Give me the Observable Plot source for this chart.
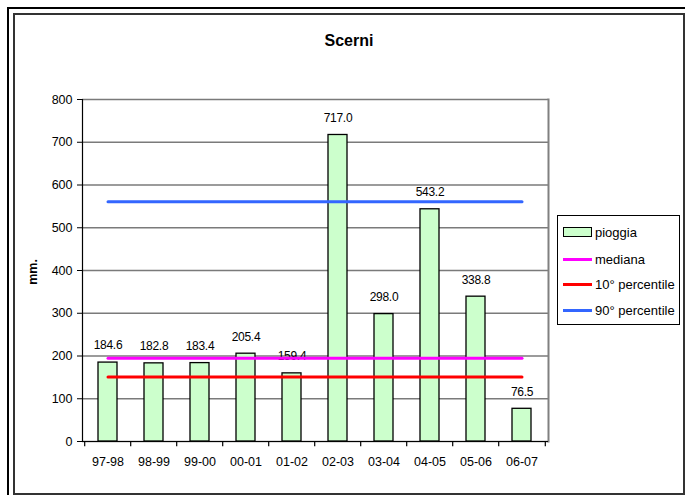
<!DOCTYPE html>
<html>
<head>
<meta charset="utf-8">
<script src="https://cdn.jsdelivr.net/npm/d3@7"></script>
<script src="https://cdn.jsdelivr.net/npm/@observablehq/plot@0.6"></script>
<style>
  html, body { margin: 0; padding: 0; background: #fff; }
  body { font-family: "Liberation Sans", Arial, sans-serif; }
  #wrap { position: relative; width: 685px; height: 495px; overflow: hidden; }
  #wrap svg { position: absolute; left: 0; top: 0; }
  #wrap svg .vlabels text { letter-spacing: -0.3px; }
  .outer { position: absolute; left: 7px; top: 7px; width: 700px; height: 600px;
           border-left: 2px solid #000; border-top: 2px solid #000; }
  .inner { position: absolute; left: 13px; top: 13px; width: 668px; height: 478px;
           border: 2px solid #333; }
  .title { position: absolute; left: 0; width: 698px; top: 32px; text-align: center;
           font-weight: bold; font-size: 16px; color: #000; }
  .ylab { position: absolute; left: 33px; top: 272px; transform: translate(-50%, -50%) rotate(-90deg);
          font-weight: bold; font-size: 12.5px; white-space: nowrap; }
  .legend { position: absolute; left: 557px; top: 215px; width: 121px; height: 108px;
            border: 1px solid #000; background: #fff; font-size: 13px; }
  .item { position: absolute; left: 5px; height: 14px; display: flex; align-items: center; white-space: nowrap; }
  .sw-bar { width: 27px; height: 8px; background: #ccffcc; border: 1px solid #000; margin-right: 3px; }
  .sw-line { width: 29px; height: 3px; margin-right: 3px; }
</style>
</head>
<body>
<div id="wrap">
  <div class="outer"></div>
  <div class="inner"></div>
  <div class="title">Scerni</div>
  <div class="ylab">mm.</div>
</div>
<script>
// Rainfall totals per hydrological year (mm)
const seasons = ["97-98", "98-99", "99-00", "00-01", "01-02", "02-03", "03-04", "04-05", "05-06", "06-07"];
const rainfall = [184.6, 182.8, 183.4, 205.4, 159.4, 717.0, 298.0, 543.2, 338.8, 76.5];

// Reference levels over the period (mm)
const mediana = 195.0;
const percentile10 = 151.1;
const percentile90 = 560.6;

const yTicks = [0, 100, 200, 300, 400, 500, 600, 700, 800];

const legendItems = [
  {label: "pioggia", kind: "bar"},
  {label: "mediana", kind: "line", color: "#ff00ff"},
  {label: "10° percentile", kind: "line", color: "#ff0000"},
  {label: "90° percentile", kind: "line", color: "#3366ff"}
];

const data = seasons.map((s, i) => ({season: s, mm: rainfall[i]}));
const levels = [
  {value: mediana, color: "#ff00ff"},
  {value: percentile10, color: "#ff0000"},
  {value: percentile90, color: "#3366ff"}
];

const marginLeft = 82, marginRight = 137;
const step = (685 - marginLeft - marginRight) / seasons.length;

const chart = Plot.plot({
  width: 685,
  height: 495,
  marginLeft,
  marginRight,
  marginTop: 99,
  marginBottom: 54,
  style: {fontFamily: "Liberation Sans, Arial, sans-serif", fontSize: "12px", color: "#000", background: "transparent"},
  x: {domain: seasons, paddingInner: 0.58, paddingOuter: 0.29},
  y: {domain: [0, 800]},
  marks: [
    Plot.ruleY(yTicks, {stroke: "#7a7a7a", strokeWidth: 1.5}),
    Plot.frame({anchor: "right", stroke: "#808080", strokeWidth: 2}),
    Plot.barY(data, {x: "season", y: "mm", fill: "#ccffcc", stroke: "#000", strokeWidth: 1.3}),
    Plot.text(data, {x: "season", y: "mm", text: d => d.mm.toFixed(1), dy: -17, fill: "#000", fontSize: 12, className: "vlabels"}),
    ...levels.map(l => Plot.lineY(seasons, {x: d => d, y: () => l.value, stroke: l.color, strokeWidth: 3})),
    Plot.ruleY([0], {stroke: "#000", strokeWidth: 1.2}),
    Plot.frame({anchor: "left", stroke: "#000", strokeWidth: 1.2}),
    // category boundary ticks below the axis
    Plot.ruleX(seasons, {x: d => d, dx: -step / 2, y1: 0, y2: -12, stroke: "#000", strokeWidth: 1.2}),
    Plot.ruleX([seasons[seasons.length - 1]], {x: d => d, dx: step / 2, y1: 0, y2: -12, stroke: "#000", strokeWidth: 1.2}),
    Plot.axisY(yTicks, {tickSize: 5, tickPadding: 5, label: null, fontSize: 12.5}),
    Plot.axisX({tickSize: 0, tickPadding: 16, label: null, fontSize: 12.5})
  ]
});

const wrap = document.getElementById("wrap");
wrap.insertBefore(chart, wrap.querySelector(".title"));

// Legend box
const legend = document.createElement("div");
legend.className = "legend";
const rowTops = [9, 36, 61, 87];
legendItems.forEach((it, i) => {
  const row = document.createElement("div");
  row.className = "item";
  row.style.top = rowTops[i] + "px";
  const sw = document.createElement("div");
  if (it.kind === "bar") sw.className = "sw-bar";
  else { sw.className = "sw-line"; sw.style.background = it.color; }
  const t = document.createElement("span");
  t.textContent = it.label;
  row.appendChild(sw);
  row.appendChild(t);
  legend.appendChild(row);
});
wrap.appendChild(legend);
</script>
</body>
</html>
